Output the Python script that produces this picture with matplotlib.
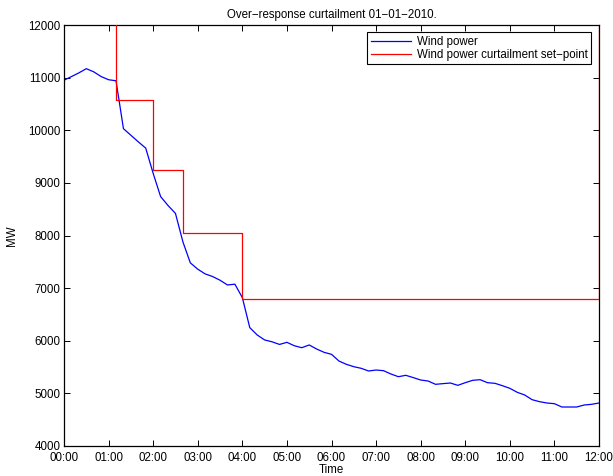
import numpy as np
import matplotlib.pyplot as plt

plt.rcParams['font.family'] = ['Liberation Sans', 'DejaVu Sans']

# wind power every 10 minutes, 00:00 .. 12:00
wind_mw = [10950, 11020, 11090, 11170, 11110, 11020, 10960, 10940, 10030, 9905,
           9780, 9660, 9180, 8740, 8570, 8420, 7880, 7480, 7360, 7270,
           7220, 7150, 7060, 7075, 6820, 6250, 6110, 6015, 5980, 5930,
           5970, 5905, 5868, 5920, 5843, 5780, 5742, 5615, 5552, 5507,
           5476, 5425, 5444, 5431, 5368, 5317, 5343, 5300, 5254, 5235,
           5172, 5185, 5197, 5153, 5203, 5248, 5260, 5203, 5191, 5146,
           5096, 5020, 4969, 4880, 4842, 4817, 4804, 4741, 4741, 4741,
           4779, 4792, 4817]
wind_t = np.arange(len(wind_mw)) / 6.0

# curtailment set-point (steps); 20000 = no curtailment
set_t = [1 + 10 / 60, 1 + 10 / 60, 2.0, 2 + 40 / 60, 4.0, 12.0, 12.0]
set_mw = [20000, 10570, 9250, 8050, 6800, 6800, 20000]

tick_labels = ["%02d:00" % h for h in range(13)]

fs = 8.3

fig = plt.figure(figsize=(6.13, 4.76), dpi=100)
ax = fig.add_axes([64 / 613, 30 / 476, 535 / 613, 421 / 476])

ax.plot(wind_t, wind_mw, color='#0000ff', lw=0.9, label='Wind power')
ax.step(set_t, set_mw, where='post', color='#ff0000', lw=0.9, zorder=3,
        label='Wind power curtailment set\u2212point')

ax.set_xlim(0, 12)
ax.set_ylim(4000, 12000)
ax.set_xticks(range(13))
ax.set_xticklabels(tick_labels)
ax.set_yticks(range(4000, 12001, 1000))

ax.tick_params(direction='in', top=True, right=True, length=4.5, width=0.7,
               labelsize=fs)
ax.tick_params(axis='x', pad=4)
ax.tick_params(axis='y', pad=2.5)
for sp in ax.spines.values():
    sp.set_linewidth(0.9)

ax.set_title('Over\u2212response curtailment 01\u221201\u22122010.', fontsize=fs, pad=5)
ax.set_xlabel('Time', fontsize=fs, labelpad=0.5)
ax.set_ylabel('MW', fontsize=fs, labelpad=7)

leg = ax.legend(loc='upper right', bbox_to_anchor=(0.985, 0.983), borderaxespad=0,
                fontsize=fs, fancybox=False, framealpha=1, edgecolor='black',
                handlelength=3.5, handletextpad=0.5, borderpad=0.3, labelspacing=0.1)
leg.get_frame().set_linewidth(0.8)

fig.savefig('out.png', dpi=100)
